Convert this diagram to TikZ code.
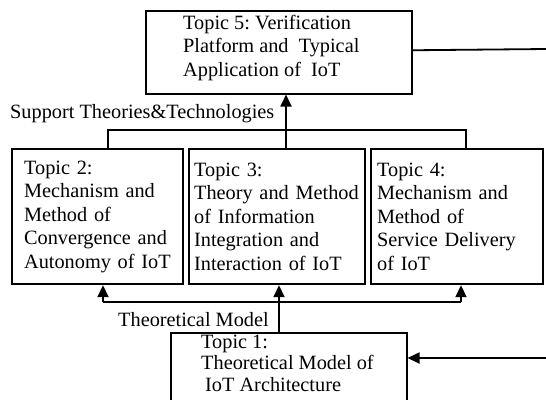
\documentclass[tikz,border=0pt]{standalone}
\usepackage{fontspec}
\setmainfont{Liberation Serif}
\usetikzlibrary{arrows.meta}
\begin{document}
\frenchspacing
\begin{tikzpicture}[x=1bp,y=-1bp,
  font=\fontsize{20.3bp}{23.5bp}\selectfont,
  topic/.style={draw, line width=2.2bp, rectangle, align=left, inner ysep=0pt,
    minimum height=135bp, anchor=north west},
  bigbox/.style={draw, line width=1.5bp, rectangle, anchor=north west, inner sep=0pt},
  conn/.style={line width=1.8bp},
  arr/.style={conn, -{Triangle[width=11bp,length=12bp]}},
  lbl/.style={inner sep=0pt, anchor=west}]
\useasboundingbox (0,0) rectangle (546,399);
% top box
\node[bigbox, minimum width=266bp, minimum height=83bp] (t5) at (145,10) {};
\node[lbl, anchor=north west, align=left] (t5t) at (183,15)
  {Topic 5: Verification\\Platform and\ \ Typical\\Application of\ \ IoT};
% middle boxes
\node[topic, inner xsep=12bp, text width=147bp] (t2) at (11,148)
  {Topic 2:\\Mechanism and\\Method of\\Convergence and\\Autonomy of IoT};
\node[topic, inner xsep=5bp, text width=166bp] (t3) at (188,148)
  {Topic 3:\\Theory and Method\\of Information\\Integration and\\Interaction of IoT};
\node[topic, inner xsep=6bp, text width=160bp] (t4) at (370,148)
  {Topic 4:\\Mechanism and\\Method of\\Service Delivery\\of IoT};
% bottom box
\node[bigbox, minimum width=236bp, minimum height=100bp] (t1box) at (170,332) {};
\node[lbl, anchor=north west, align=left, font=\fontsize{20.3bp}{21.8bp}\selectfont] (t1) at (201,334.5)
  {Topic 1:\\Theoretical Model of\\\hspace*{4bp}IoT Architecture};
% labels
\node[lbl] (sup) at (10,114) {Support Theories\&Technologies};
\node[lbl] (thm) at (118,320) {Theoretical Model};
% upper bus
\coordinate (ua) at (108,130);
\coordinate (ub) at (286,130);
\coordinate (uc) at (466,130);
\draw[conn] (ua |- t2.north) -- (ua) -- (uc) -- (uc |- t4.north);
\draw[conn] (ub |- t3.north) -- (ub);
\draw[arr] (ub) -- (ub |- t5.south);
% lower bus
\coordinate (la) at (103,302);
\coordinate (lb) at (279,302);
\coordinate (lc) at (461,302);
\draw[conn] (la) -- (lc);
\draw[arr] (la) -- (la |- t2.south);
\draw[arr] (lc) -- (lc |- t4.south);
\draw[arr] (lb |- t1box.north) -- (lb |- t3.south);
% side lines
\coordinate (e1) at (546,49);
\draw[conn] ([yshift=2bp]t5.east) -- (e1);
\coordinate (e2) at (546,358);
\draw[arr] (e2) -- (e2 -| t1box.east);
\end{tikzpicture}
\end{document}
